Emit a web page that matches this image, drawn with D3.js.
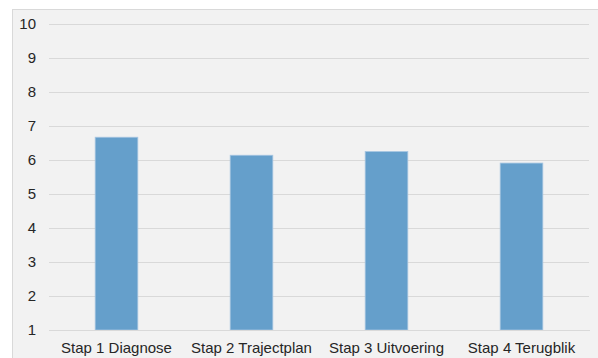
<!DOCTYPE html>
<html>
<head>
<meta charset="utf-8">
<script src="https://cdn.jsdelivr.net/npm/d3@7"></script>
<style>
  html, body { margin: 0; padding: 0; background: #ffffff; }
  svg { display: block; }
</style>
</head>
<body>
<svg id="chart" width="598" height="358"></svg>
<script>
// Average score per phase of the trajectory
const categories = ["Stap 1 Diagnose", "Stap 2 Trajectplan", "Stap 3 Uitvoering", "Stap 4 Terugblik"];
const scores = [6.67, 6.14, 6.25, 5.91];
const yTicks = [1, 2, 3, 4, 5, 6, 7, 8, 9, 10];

const svg = d3.select("#chart");
const W = 598, H = 358;
const margin = { left: 49, right: 9, top: 24, bottom: 28 };
const font = "'Liberation Sans', Arial, sans-serif";

// chart panel background with thin border
svg.append("rect")
  .attr("x", 12.5).attr("y", 9.5)
  .attr("width", W).attr("height", H)
  .attr("fill", "#f2f2f2")
  .attr("stroke", "#d9d9d9")
  .attr("stroke-width", 1);

const x = d3.scaleBand()
  .domain(categories)
  .range([margin.left, W - margin.right])
  .paddingInner(0.684)
  .paddingOuter(0.342);

const y = d3.scaleLinear()
  .domain([1, 10])
  .range([330, 24]);

// horizontal gridlines
const yAxis = d3.axisLeft(y)
  .tickValues(yTicks)
  .tickSize(-(W - margin.right - margin.left))
  .tickPadding(13)
  .tickFormat(d3.format("d"));

const gy = svg.append("g")
  .attr("transform", `translate(${margin.left},0)`)
  .call(yAxis);
gy.select(".domain").remove();
gy.selectAll(".tick line")
  .attr("stroke", "#d9d9d9")
  .attr("stroke-width", 1)
  .attr("shape-rendering", "crispEdges");
gy.selectAll(".tick text")
  .attr("fill", "#262626")
  .attr("font-family", font)
  .attr("font-size", "15px");

// bars
svg.append("g")
  .selectAll("rect")
  .data(scores)
  .join("rect")
  .attr("x", (d, i) => x(categories[i]))
  .attr("y", d => y(d))
  .attr("width", x.bandwidth())
  .attr("height", d => y(1) - y(d))
  .attr("fill", "#659fcb")
  .attr("stroke", "#a7c6e2")
  .attr("stroke-width", 0.8);

// category axis
const xAxis = d3.axisBottom(x).tickSize(0).tickPadding(12);
const gx = svg.append("g")
  .attr("transform", `translate(0,${y(1)})`)
  .call(xAxis);
gx.select(".domain")
  .attr("stroke", "#d9d9d9")
  .attr("shape-rendering", "crispEdges");
gx.selectAll(".tick text")
  .attr("fill", "#262626")
  .attr("font-family", font)
  .attr("font-size", "15px");
</script>
</body>
</html>
